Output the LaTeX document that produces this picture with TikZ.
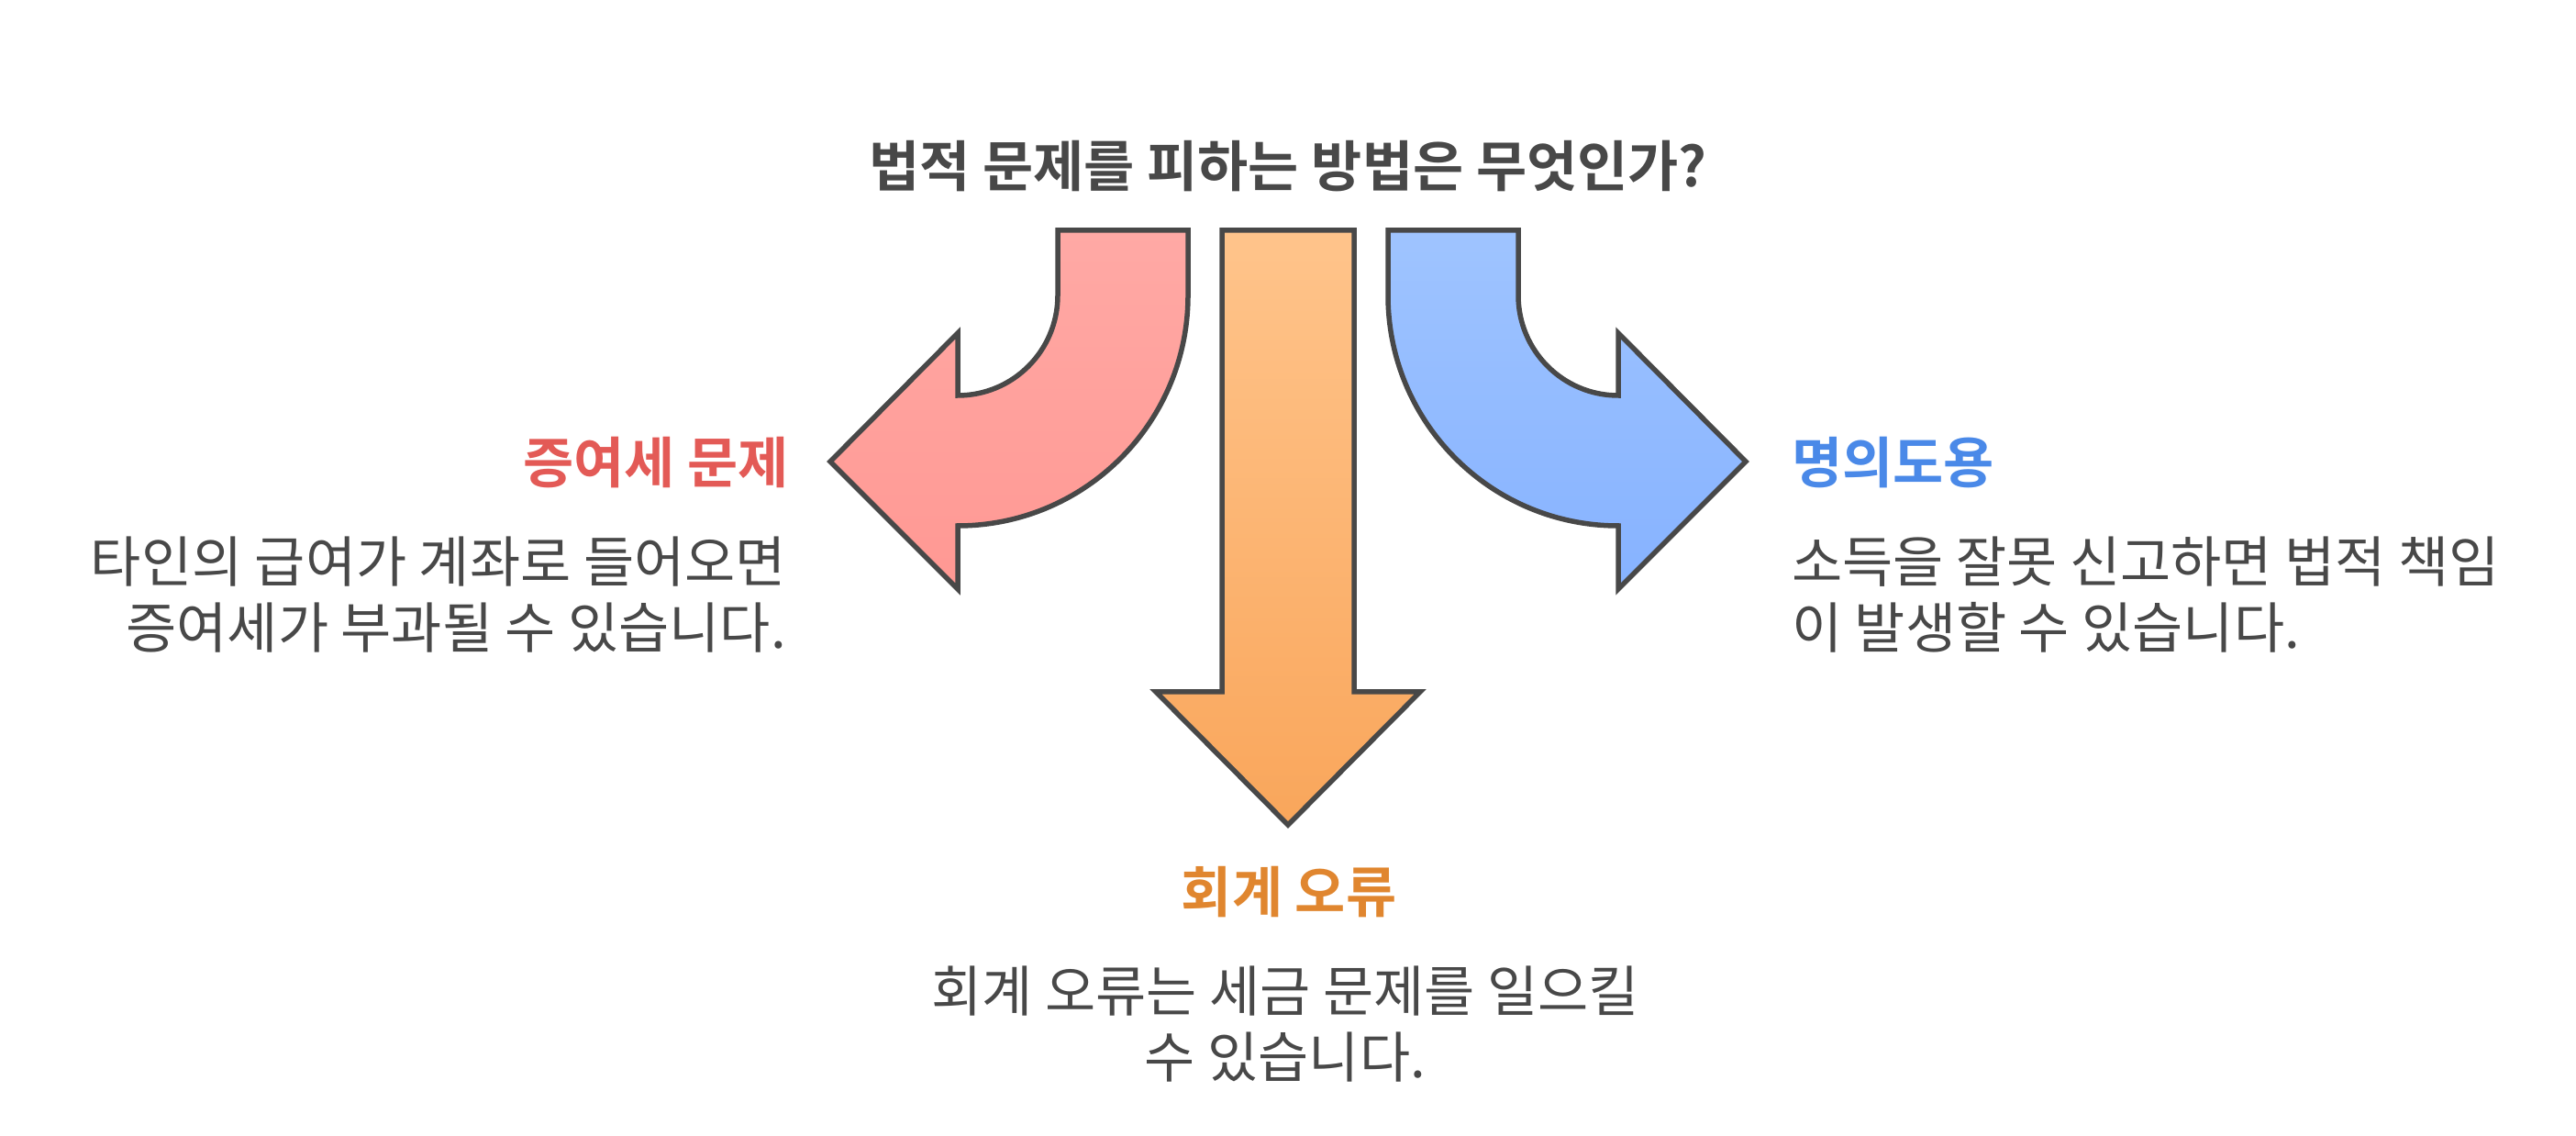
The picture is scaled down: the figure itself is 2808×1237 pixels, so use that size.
\documentclass[tikz,border=0pt]{standalone}
\usepackage{fontspec}
\setmainfont{Noto Sans CJK KR}[BoldFont={Noto Sans CJK KR Bold}]
\usepackage{tikz}
\usetikzlibrary{positioning}
\definecolor{ink}{HTML}{484848}
\definecolor{redtop}{HTML}{FFA9A5}
\definecolor{redbot}{HTML}{FF9893}
\definecolor{orgtop}{HTML}{FFC48B}
\definecolor{orgbot}{HTML}{F9A65B}
\definecolor{blutop}{HTML}{9FC4FF}
\definecolor{blubot}{HTML}{86B2FF}
\definecolor{redlbl}{HTML}{E35A56}
\definecolor{orglbl}{HTML}{E0862F}
\definecolor{blulbl}{HTML}{4A89E8}

\begin{document}
\begin{tikzpicture}[x=1pt,y=1pt,
  arrowbody/.style={draw=ink,line width=5.5pt},
  lbl/.style={inner sep=0pt,font=\fontsize{60}{72}\selectfont\bfseries},
  body/.style={inner sep=0pt,text=ink,font=\fontsize{60}{72}\selectfont}]
  \useasboundingbox (0,0) rectangle (2808,1237);
  \node[lbl,text=ink,anchor=base] (title) at (1404,1033) {법적 문제를 피하는 방법은 무엇인가?};
  % three arrows
  \draw[arrowbody,top color=redtop,bottom color=redbot] (1153,986) -- (1295,986) -- (1295,915) arc[start angle=0,end angle=-90,radius=251] -- (1044,595) -- (905,734) -- (1044,874) -- (1044,806) arc[start angle=-90,end angle=0,radius=109] -- cycle;
  \draw[arrowbody,top color=orgtop,bottom color=orgbot] (1332,986) -- (1476,986) -- (1476,483) -- (1548,483) -- (1404,338) -- (1260,483) -- (1332,483) -- cycle;
  \draw[arrowbody,top color=blutop,bottom color=blubot] (1655,986) -- (1513,986) -- (1513,915) arc[start angle=180,end angle=270,radius=251] -- (1764,595) -- (1903,734) -- (1764,874) -- (1764,806) arc[start angle=270,end angle=180,radius=109] -- cycle;
  % labels
  \node[lbl,text=redlbl,anchor=base east] (gift) at (860,710) {증여세 문제};
  \node[body,anchor=base east,align=right] (giftnote) at (857,530) {타인의 급여가 계좌로 들어오면\\증여세가 부과될 수 있습니다.};
  \node[lbl,text=blulbl,anchor=base west] (misuse) at (1953,710) {명의도용};
  \node[body,anchor=base west,align=left] (misusenote) at (1953,530) {소득을 잘못 신고하면 법적 책임\\이 발생할 수 있습니다.};
  \node[lbl,text=orglbl,anchor=base] (acct) at (1405,242) {회계 오류};
  \node[body,anchor=base,align=center] (acctnote) at (1401,63) {회계 오류는 세금 문제를 일으킬\\수 있습니다.};
\end{tikzpicture}
\end{document}
